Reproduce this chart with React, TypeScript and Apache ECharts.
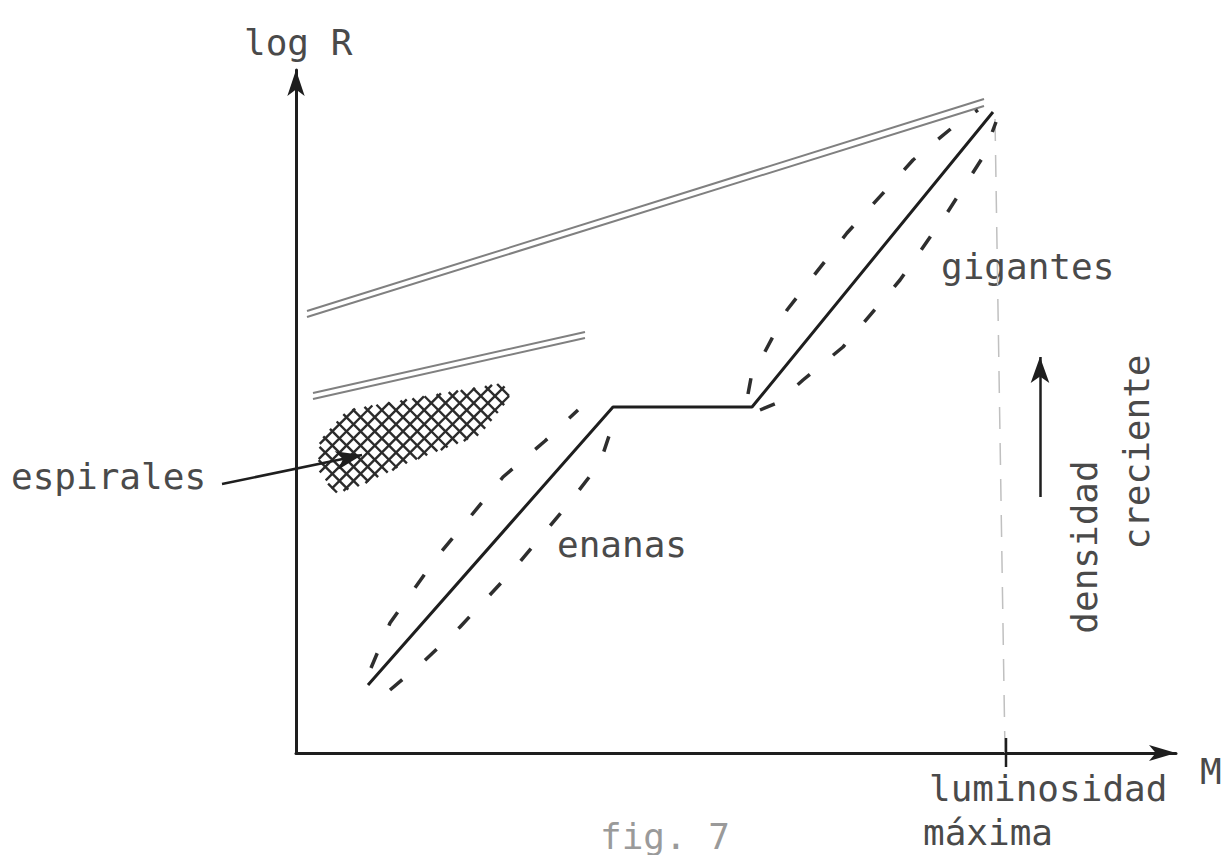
import React, { useEffect, useRef } from "react";
import * as echarts from "echarts";

// Diagram units: one unit on either axis is 10 px of plot area.
const X_MAX = 88.0; // M (magnitude) axis extent
const Y_MAX = 68.3; // log R axis extent

// Solid track: dwarf branch, plateau, giant branch
const mainTrack: number[][] = [
  [7.2, 6.8],
  [31.7, 34.6],
  [45.6, 34.6],
  [69.7, 64.1],
];

// Dashed envelopes round the two branches
const dwarfEnvelopeLeft: number[][] = [
  [7.5, 8.5],
  [9.4, 13.0],
  [14.1, 19.6],
  [20.7, 27.6],
  [24.9, 31.2],
  [28.2, 34.3],
];
const dwarfEnvelopeRight: number[][] = [
  [9.4, 6.3],
  [12.6, 9.0],
  [16.4, 12.6],
  [21.7, 18.3],
  [27.4, 25.1],
  [30.4, 29.0],
  [31.9, 33.5],
];
const giantEnvelopeLeft: number[][] = [
  [45.2, 35.9],
  [45.5, 37.5],
  [49.1, 44.3],
  [55.1, 52.0],
  [61.7, 59.3],
  [65.7, 62.6],
  [68.2, 64.3],
];
const giantEnvelopeRight: number[][] = [
  [46.4, 34.3],
  [48.1, 35.0],
  [50.7, 37.3],
  [54.7, 40.6],
  [60.4, 47.3],
  [65.1, 54.0],
  [68.7, 59.6],
  [70.0, 63.1],
];

// Double-ruled loci
const upperLocusA: number[][] = [
  [1.1, 44.2],
  [68.8, 65.4],
];
const upperLocusB: number[][] = [
  [1.1, 43.6],
  [68.8, 64.7],
];
const middleLocusA: number[][] = [
  [1.7, 36.0],
  [28.9, 42.1],
];
const middleLocusB: number[][] = [
  [1.7, 35.4],
  [28.9, 41.5],
];

// Outline of the cross-hatched spiral region
const spiralRegion: number[][] = [
  [2.4, 31.3],
  [5.1, 34.3],
  [12.4, 35.6],
  [20.7, 37.0],
  [21.4, 35.5],
  [18.4, 31.8],
  [11.4, 29.1],
  [5.9, 26.5],
  [3.9, 26.0],
  [2.2, 28.3],
];

// Maximum luminosity marker
const maxLuminosityTick: number[][] = [
  [71.0, -1.4],
  [71.0, 1.5],
];
const maxLuminosityGuide: number[][] = [
  [70.9, 0],
  [69.9, 63.5],
];

// Pointer arrows
const spiralPointer: number[][] = [
  [-7.4, 26.9],
  [6.6, 29.8],
];
const densityArrow: number[][] = [
  [74.4, 25.6],
  [74.4, 39.6],
];

const INK = "#1e1e1e";
const TEXT = "#4a4a4a";
const FONT = '"DejaVu Sans Mono", "Liberation Mono", monospace';

function polyline(name: string, data: number[][], lineStyle: any, z = 2) {
  return {
    name,
    type: "line",
    data,
    symbol: "none",
    showSymbol: false,
    clip: false,
    silent: true,
    z,
    lineStyle,
  };
}

function label(
  text: string,
  x: number,
  y: number,
  opts: { rotation?: number; align?: string; color?: string; size?: number } = {}
) {
  const align = opts.align || "left";
  return {
    type: "text",
    x,
    y,
    rotation: opts.rotation || 0,
    silent: true,
    style: {
      text,
      fill: opts.color || TEXT,
      fontSize: opts.size || 36,
      fontFamily: FONT,
      align,
      textAlign: align,
      verticalAlign: "middle",
      textVerticalAlign: "middle",
    },
  };
}

// Cross-hatching clipped to the spiral outline (two diagonal families)
function hatchRenderer(_params: any, api: any) {
  const poly: number[][] = spiralRegion.map((p) => api.coord(p));
  const children: any[] = [];
  const spacing = 10;
  for (const ang of [Math.PI / 4, -Math.PI / 4]) {
    const d = [Math.cos(ang), Math.sin(ang)];
    const n = [-d[1], d[0]];
    const proj = poly.map((p) => p[0] * n[0] + p[1] * n[1]);
    const cMin = Math.min(...proj);
    const cMax = Math.max(...proj);
    for (let c = Math.ceil(cMin / spacing) * spacing; c <= cMax; c += spacing) {
      const ts: number[] = [];
      for (let i = 0; i < poly.length; i++) {
        const j = (i + 1) % poly.length;
        const na = proj[i];
        const nb = proj[j];
        if ((na - c) * (nb - c) < 0) {
          const s = (c - na) / (nb - na);
          const px = poly[i][0] + s * (poly[j][0] - poly[i][0]);
          const py = poly[i][1] + s * (poly[j][1] - poly[i][1]);
          ts.push(px * d[0] + py * d[1]);
        }
      }
      ts.sort((a, b) => a - b);
      for (let k = 0; k + 1 < ts.length; k += 2) {
        children.push({
          type: "line",
          shape: {
            x1: c * n[0] + ts[k] * d[0],
            y1: c * n[1] + ts[k] * d[1],
            x2: c * n[0] + ts[k + 1] * d[0],
            y2: c * n[1] + ts[k + 1] * d[1],
          },
          style: { stroke: "#2b2b2b", lineWidth: 2.4 },
        });
      }
    }
  }
  return { type: "group", children };
}

function buildOption() {
  const axisCommon = {
    type: "value",
    min: 0,
    axisTick: { show: false },
    axisLabel: { show: false },
    splitLine: { show: false },
  };
  const envelopeStyle = { color: "#2e2e2e", width: 3.5, type: [16, 30] };
  const locusStyle = { color: "#808080", width: 2 };

  return {
    animation: false,
    backgroundColor: "#ffffff",
    grid: { left: 296, top: 70, width: 880, height: 683, containLabel: false },
    xAxis: {
      ...axisCommon,
      max: X_MAX,
      axisLine: {
        show: true,
        onZero: false,
        symbol: ["none", "arrow"],
        symbolSize: [12, 27],
        lineStyle: { color: INK, width: 3 },
      },
    },
    yAxis: {
      ...axisCommon,
      max: Y_MAX,
      axisLine: {
        show: true,
        onZero: false,
        symbol: ["none", "arrow"],
        symbolSize: [13, 26],
        lineStyle: { color: INK, width: 3 },
      },
    },
    series: [
      polyline("luminosidad máxima", maxLuminosityGuide, { color: "#c0c0c0", width: 1.5, type: [22, 14] }, 1),
      polyline("tick", maxLuminosityTick, { color: INK, width: 2.5 }, 3),
      polyline("locus superior a", upperLocusA, locusStyle),
      polyline("locus superior b", upperLocusB, locusStyle),
      polyline("locus medio a", middleLocusA, locusStyle),
      polyline("locus medio b", middleLocusB, locusStyle),
      polyline("enanas izq", dwarfEnvelopeLeft, envelopeStyle),
      polyline("enanas der", dwarfEnvelopeRight, envelopeStyle),
      polyline("gigantes izq", giantEnvelopeLeft, envelopeStyle),
      polyline("gigantes der", giantEnvelopeRight, envelopeStyle),
      polyline("secuencia", mainTrack, { color: INK, width: 3 }, 4),
      {
        name: "espirales",
        type: "custom",
        coordinateSystem: "cartesian2d",
        clip: false,
        silent: true,
        data: [[10, 30]],
        renderItem: hatchRenderer,
        z: 3,
      },
      {
        name: "flechas",
        type: "lines",
        coordinateSystem: "cartesian2d",
        clip: false,
        silent: true,
        symbol: ["none", "arrow"],
        symbolSize: [1, [14, 26]],
        lineStyle: { color: INK, width: 2.5, opacity: 1, curveness: 0 },
        data: [{ coords: spiralPointer }, { coords: densityArrow }],
        z: 5,
      },
    ],
    graphic: {
      elements: [
        label("log R", 244, 42),
        label("espirales", 11, 476),
        label("enanas", 557, 544),
        label("gigantes", 941, 266),
        label("luminosidad", 929, 788),
        label("máxima", 923, 832),
        label("M", 1200, 771),
        label("fig. 7", 600, 836, { color: "#9a9a9a" }),
        label("densidad", 1084, 547, { rotation: Math.PI / 2, align: "center" }),
        label("creciente", 1136, 452, { rotation: Math.PI / 2, align: "center" }),
      ],
    },
  };
}

export default function App() {
  const ref = useRef<HTMLDivElement>(null);
  useEffect(() => {
    if (!ref.current) return;
    const chart = echarts.init(ref.current, undefined, { renderer: "svg" });
    chart.setOption(buildOption() as any);
    return () => chart.dispose();
  }, []);
  return (
    <div
      ref={ref}
      style={{ position: "fixed", left: 0, top: 0, width: 1221, height: 855, background: "#fff" }}
    />
  );
}
